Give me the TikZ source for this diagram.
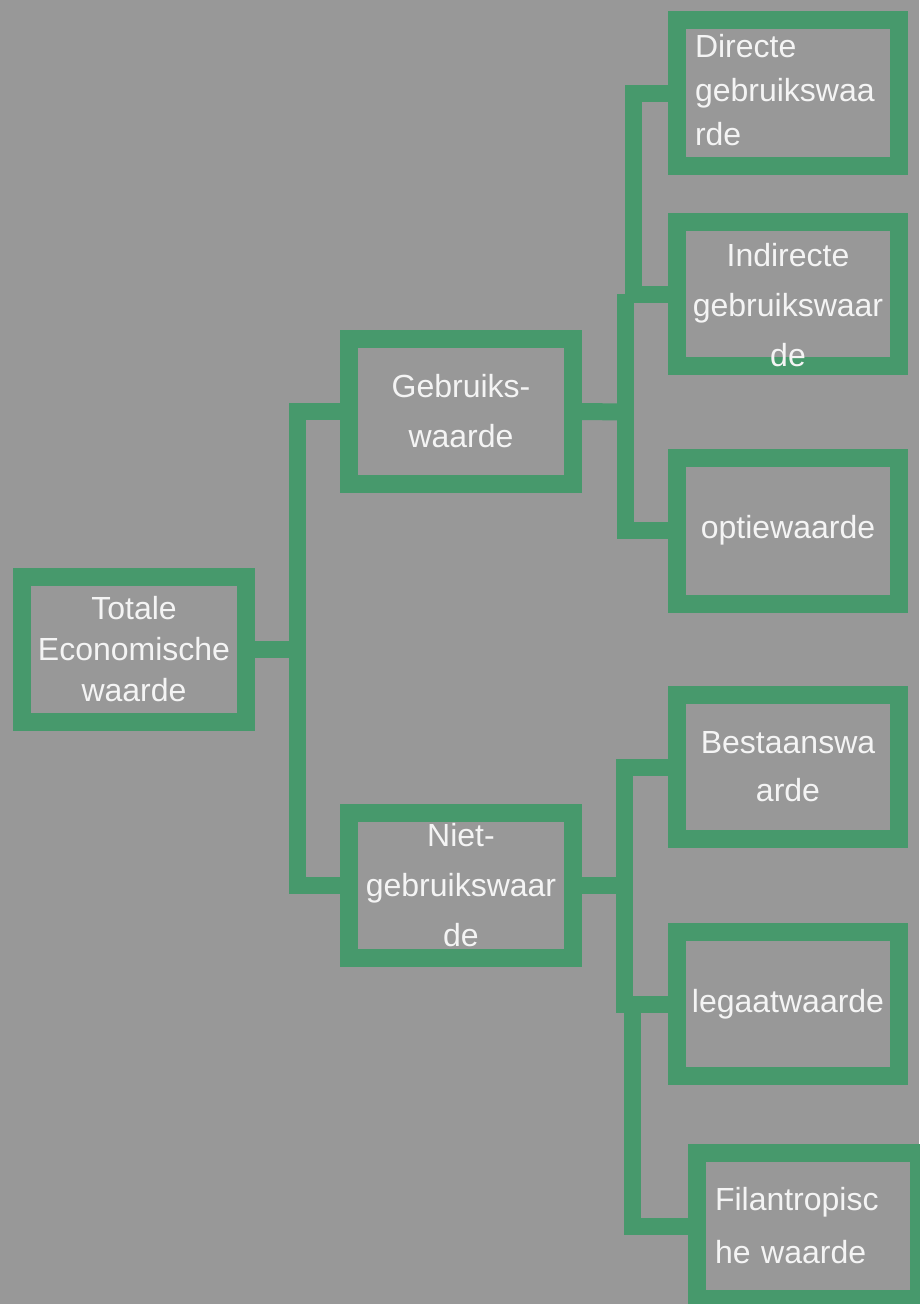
\documentclass[tikz,border=0pt]{standalone}
\usepackage{fontspec}
\setmainfont{Liberation Sans}
\definecolor{bggray}{HTML}{989898}
\definecolor{tegreen}{HTML}{47996C}
\definecolor{txt}{HTML}{F4F4F4}
\begin{document}
\begin{tikzpicture}[x=1pt,y=-1pt,
  box/.style={draw=tegreen,line width=18pt,minimum width=222pt,minimum height=146pt,
    inner sep=0pt,text=txt,align=center,line join=miter},
  conn/.style={draw=tegreen,line width=17pt,line join=miter,line cap=butt},
  fs/.style={font=\fontsize{32}{#1}\selectfont}]
\fill[bggray] (0,0) rectangle (919,1304);
\useasboundingbox (0,0) rectangle (919,1304);
% junctions
\coordinate (j0) at (297,649.5);
\coordinate (j1) at (624,412);
\coordinate (jA) at (633,294);
\coordinate (jB) at (625,294);
\coordinate (j2) at (624,885.5);
\coordinate (jD) at (632,1004);
% boxes
\node[box,minimum width=224pt,minimum height=145pt,fs=41] (tot) at (134,649.5) {Totale\\Economische\\waarde};
\node[box,minimum width=224pt,minimum height=145pt,fs=50] (geb) at (461,411.5) {Gebruiks-\\waarde};
\node[box,minimum width=224pt,minimum height=145pt,fs=50] (niet) at (461,885.5) {Niet-\\gebruikswaar\\de};
\node[box] (dir) at (788,93) {};
\node[text=txt,fs=44,align=left,text width=186pt,inner sep=0pt] (dirT) at (788,90) {Directe\\gebruikswaa\\rde};
\node[box,minimum height=144pt] (ind) at (788,294) {};
\node[text=txt,align=center,fs=50,inner sep=0pt] (indT) at (788,305) {Indirecte\\gebruikswaar\\de};
\node[box,fs=44] (opt) at (788,530.5) {optiewaarde};
\node[box,fs=48,minimum height=144pt] (best) at (788,767) {Bestaanswa\\arde};
\node[box,fs=44,minimum height=144pt] (leg) at (788,1004) {legaatwaarde};
\node[box,fs=53,align=left,text width=186pt,inner xsep=18pt,minimum height=146pt] (fil) at (808,1226) {Filantropisc\\he waarde};
% connectors
\draw[conn] (tot.east) -- (j0);
\draw[conn] (geb.west) -| (j0) |- (niet.west);
\draw[conn] (geb.east) -- (j1);
\draw[conn] (dir.west) -| (jA);
\draw[conn] (jB) -- (ind.west);
\draw[conn] (jB) |- (opt.west);
\draw[conn] (niet.east) -- (j2);
\draw[conn] (best.west) -| (j2) |- (leg.west);
\draw[conn] (jD) |- (fil.west);
\end{tikzpicture}
\end{document}
